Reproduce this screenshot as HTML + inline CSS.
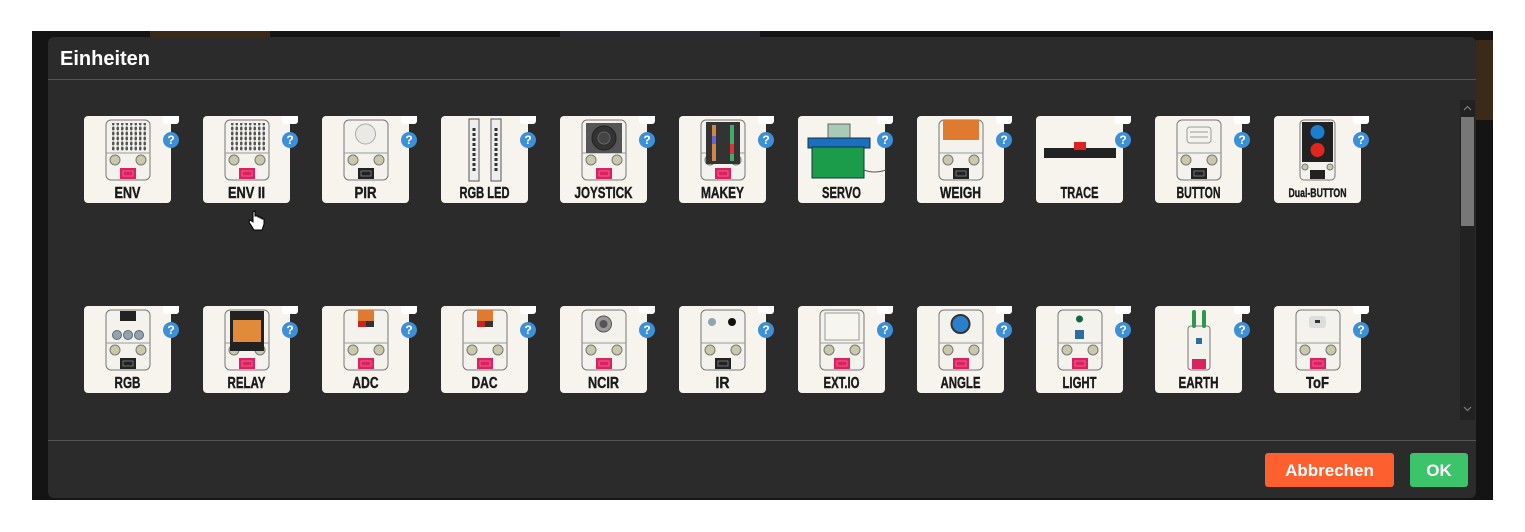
<!DOCTYPE html>
<html><head><meta charset="utf-8"><style>
html,body{margin:0;padding:0;background:#fff;}
svg{display:block}
.lb{font-family:"Liberation Sans",sans-serif;font-weight:bold;font-size:16px;fill:#1a1a1a;text-anchor:middle;stroke:#1a1a1a;stroke-width:0.4}
.q{font-family:"Liberation Sans",sans-serif;font-weight:bold;font-size:12px;fill:#fff;text-anchor:middle}
</style></head><body>
<svg width="1525" height="532" viewBox="0 0 1525 532" xmlns="http://www.w3.org/2000/svg">
<defs>
<symbol id="body"><rect x="22" y="4" width="44" height="60" rx="5" fill="#f4f2ec" stroke="#777" stroke-width="1"/><line x1="22" y1="37" x2="66" y2="37" stroke="#999"/><circle cx="31" cy="44" r="5" fill="#c9c9a9" stroke="#777"/><circle cx="57" cy="44" r="5" fill="#c9c9a9" stroke="#777"/></symbol>
<symbol id="pink"><rect x="36" y="52" width="16" height="11" fill="#d8245e"/><rect x="39" y="55" width="10" height="5" fill="none" stroke="#f6a" stroke-width="0.8"/></symbol>
<symbol id="blk"><rect x="36" y="52" width="16" height="11" fill="#222"/><rect x="39" y="55" width="10" height="5" fill="none" stroke="#888" stroke-width="0.8"/></symbol>
<symbol id="card"><rect x="0" y="0" width="87" height="87" rx="4" fill="#f7f4ee"/><rect x="79" y="-8" width="16" height="16" rx="3" fill="#fff"/><circle cx="87" cy="24" r="8" fill="#3d8fd6"/></symbol>
<pattern id="dots" width="4.5" height="5" patternUnits="userSpaceOnUse"><rect x="1" y="0.5" width="2.5" height="4" rx="1.2" fill="#555"/></pattern>
</defs>
<rect x="32" y="31" width="1461" height="469" fill="#141414"/>
<rect x="150" y="31" width="120" height="6" fill="#3a2a18"/><rect x="560" y="31" width="200" height="6" fill="#2a2a30"/><rect x="1476" y="40" width="17" height="80" fill="#3a2a1a"/>
<rect x="48" y="37" width="1428" height="461" rx="6" fill="#2b2b2b"/>
<text x="60" y="65" font-family="Liberation Sans,sans-serif" font-weight="bold" font-size="20" fill="#fff">Einheiten</text>
<line x1="48" y1="79.5" x2="1476" y2="79.5" stroke="#555"/>
<line x1="48" y1="440.5" x2="1476" y2="440.5" stroke="#555"/>
<rect x="1460" y="100" width="15" height="320" fill="#222"/><rect x="1461" y="117" width="13" height="109" fill="#777"/>
<path d="M1464 110 l3.5 -3.5 l3.5 3.5" stroke="#888" fill="none"/><path d="M1464 407 l3.5 3.5 l3.5 -3.5" stroke="#888" fill="none"/>
<rect x="1265" y="453" width="129" height="34" rx="3" fill="#fe5f2e"/>
<text x="1329.5" y="476" text-anchor="middle" font-family="Liberation Sans,sans-serif" font-weight="bold" font-size="17" fill="#fff">Abbrechen</text>
<rect x="1410" y="453" width="58" height="34" rx="3" fill="#3cc46a"/>
<text x="1439" y="476" text-anchor="middle" font-family="Liberation Sans,sans-serif" font-weight="bold" font-size="17" fill="#fff">OK</text>

<!-- Row 1 -->
<g transform="translate(84,116)"><use href="#card"/><text x="87" y="28" class="q">?</text><use href="#body"/><rect x="26" y="7" width="36" height="28" fill="url(#dots)"/><use href="#pink"/><text x="43.5" y="82" class="lb" textLength="26" lengthAdjust="spacingAndGlyphs">ENV</text></g>
<g transform="translate(203,116)"><use href="#card"/><text x="87" y="28" class="q">?</text><use href="#body"/><rect x="26" y="7" width="36" height="28" fill="url(#dots)"/><use href="#pink"/><text x="43.5" y="82" class="lb" textLength="37" lengthAdjust="spacingAndGlyphs">ENV  II</text></g>
<g transform="translate(322,116)"><use href="#card"/><text x="87" y="28" class="q">?</text><use href="#body"/><circle cx="43.5" cy="18" r="10" fill="#e9e9e6" stroke="#aaa"/><use href="#blk"/><text x="43.5" y="82" class="lb" textLength="22" lengthAdjust="spacingAndGlyphs">PIR</text></g>
<g transform="translate(441,116)"><use href="#card"/><text x="87" y="28" class="q">?</text><rect x="28" y="3" width="10" height="62" fill="#eee" stroke="#555"/><rect x="50" y="3" width="10" height="62" fill="#eee" stroke="#555"/><line x1="33" y1="12" x2="33" y2="56" stroke="#333" stroke-width="3" stroke-dasharray="3 2"/><line x1="55" y1="12" x2="55" y2="56" stroke="#333" stroke-width="3" stroke-dasharray="3 2"/><text x="43.5" y="82" class="lb" textLength="50" lengthAdjust="spacingAndGlyphs">RGB LED</text></g>
<g transform="translate(560,116)"><use href="#card"/><text x="87" y="28" class="q">?</text><use href="#body"/><rect x="26" y="7" width="36" height="30" fill="#555"/><circle cx="44" cy="22" r="12" fill="#333" stroke="#222"/><circle cx="44" cy="22" r="6" fill="#444" stroke="#666"/><use href="#pink"/><text x="43.5" y="82" class="lb" textLength="58" lengthAdjust="spacingAndGlyphs">JOYSTICK</text></g>
<g transform="translate(679,116)"><use href="#card"/><text x="87" y="28" class="q">?</text><use href="#body"/><rect x="27" y="6" width="34" height="42" fill="#333"/><rect x="33" y="9" width="4" height="36" fill="#c84"/><rect x="51" y="9" width="4" height="36" fill="#4a6"/><rect x="33" y="20" width="4" height="8" fill="#66c"/><rect x="51" y="28" width="4" height="10" fill="#d33"/><use href="#pink"/><text x="43.5" y="82" class="lb" textLength="43" lengthAdjust="spacingAndGlyphs">MAKEY</text></g>
<g transform="translate(798,116)"><use href="#card"/><text x="87" y="28" class="q">?</text><rect x="30" y="8" width="22" height="16" fill="#a9c9b9" stroke="#666"/><rect x="10" y="22" width="62" height="10" fill="#1a6fc0" stroke="#134"/><rect x="14" y="31" width="52" height="31" fill="#1b9c4a" stroke="#134"/><path d="M66 54 q10 4 22 0" stroke="#555" fill="none"/><text x="43.5" y="82" class="lb" textLength="39" lengthAdjust="spacingAndGlyphs">SERVO</text></g>
<g transform="translate(917,116)"><use href="#card"/><text x="87" y="28" class="q">?</text><use href="#body"/><rect x="26" y="4" width="36" height="20" fill="#e07a30"/><use href="#blk"/><text x="43.5" y="82" class="lb" textLength="41" lengthAdjust="spacingAndGlyphs">WEIGH</text></g>
<g transform="translate(1036,116)"><use href="#card"/><text x="87" y="28" class="q">?</text><rect x="8" y="32" width="72" height="10" fill="#222"/><rect x="38" y="26" width="12" height="8" fill="#d22"/><text x="43.5" y="82" class="lb" textLength="38" lengthAdjust="spacingAndGlyphs">TRACE</text></g>
<g transform="translate(1155,116)"><use href="#card"/><text x="87" y="28" class="q">?</text><use href="#body"/><rect x="32" y="11" width="24" height="16" rx="3" fill="none" stroke="#999"/><line x1="35" y1="16" x2="53" y2="16" stroke="#999"/><line x1="35" y1="21" x2="53" y2="21" stroke="#999"/><use href="#blk"/><text x="43.5" y="82" class="lb" textLength="44" lengthAdjust="spacingAndGlyphs">BUTTON</text></g>
<g transform="translate(1274,116)"><use href="#card"/><text x="87" y="28" class="q">?</text><rect x="26" y="4" width="35" height="60" rx="4" fill="#f4f2ec" stroke="#777"/><rect x="28" y="6" width="31" height="40" fill="#222"/><circle cx="43.5" cy="16" r="7" fill="#1a7fd0"/><circle cx="43.5" cy="34" r="7" fill="#e0261e"/><circle cx="31" cy="51" r="3" fill="#c9c9a9" stroke="#777"/><circle cx="56" cy="51" r="3" fill="#c9c9a9" stroke="#777"/><rect x="36" y="54" width="15" height="9" fill="#222"/><text x="43.5" y="81" class="lb" style="font-size:12px" textLength="58" lengthAdjust="spacingAndGlyphs">Dual-BUTTON</text></g>

<!-- Row 2 -->
<g transform="translate(84,306)"><use href="#card"/><text x="87" y="28" class="q">?</text><use href="#body"/><rect x="36" y="5" width="16" height="10" fill="#222"/><circle cx="33" cy="29" r="4.5" fill="#8fa3b8" stroke="#666"/><circle cx="44" cy="29" r="4.5" fill="#8fa3b8" stroke="#666"/><circle cx="55" cy="29" r="4.5" fill="#8fa3b8" stroke="#666"/><use href="#blk"/><text x="43.5" y="82" class="lb" textLength="26" lengthAdjust="spacingAndGlyphs">RGB</text></g>
<g transform="translate(203,306)"><use href="#card"/><text x="87" y="28" class="q">?</text><use href="#body"/><rect x="27" y="5" width="34" height="40" fill="#222"/><rect x="30" y="14" width="28" height="22" fill="#e08a3a"/><use href="#pink"/><text x="43.5" y="82" class="lb" textLength="38" lengthAdjust="spacingAndGlyphs">RELAY</text></g>
<g transform="translate(322,306)"><use href="#card"/><text x="87" y="28" class="q">?</text><use href="#body"/><rect x="36" y="4" width="16" height="11" fill="#e07a30"/><rect x="36" y="15" width="8" height="6" fill="#c22"/><rect x="44" y="15" width="8" height="6" fill="#333"/><use href="#pink"/><text x="43.5" y="82" class="lb" textLength="26" lengthAdjust="spacingAndGlyphs">ADC</text></g>
<g transform="translate(441,306)"><use href="#card"/><text x="87" y="28" class="q">?</text><use href="#body"/><rect x="36" y="4" width="16" height="11" fill="#e07a30"/><rect x="36" y="15" width="8" height="6" fill="#c22"/><rect x="44" y="15" width="8" height="6" fill="#333"/><use href="#pink"/><text x="43.5" y="82" class="lb" textLength="26" lengthAdjust="spacingAndGlyphs">DAC</text></g>
<g transform="translate(560,306)"><use href="#card"/><text x="87" y="28" class="q">?</text><use href="#body"/><circle cx="43.5" cy="18" r="8" fill="#999" stroke="#555"/><circle cx="43.5" cy="18" r="4" fill="#555"/><use href="#pink"/><text x="43.5" y="82" class="lb" textLength="31" lengthAdjust="spacingAndGlyphs">NCIR</text></g>
<g transform="translate(679,306)"><use href="#card"/><text x="87" y="28" class="q">?</text><use href="#body"/><circle cx="33" cy="16" r="4" fill="#8fa3b0"/><circle cx="53" cy="16" r="4" fill="#111"/><use href="#blk"/><text x="43.5" y="82" class="lb" textLength="14" lengthAdjust="spacingAndGlyphs">IR</text></g>
<g transform="translate(798,306)"><use href="#card"/><text x="87" y="28" class="q">?</text><use href="#body"/><rect x="27" y="7" width="34" height="27" fill="#f7f5f0" stroke="#999"/><use href="#pink"/><text x="43.5" y="82" class="lb" textLength="36" lengthAdjust="spacingAndGlyphs">EXT.IO</text></g>
<g transform="translate(917,306)"><use href="#card"/><text x="87" y="28" class="q">?</text><use href="#body"/><circle cx="43.5" cy="18" r="9" fill="#2a7fcf" stroke="#333" stroke-width="2"/><use href="#pink"/><text x="43.5" y="82" class="lb" textLength="40" lengthAdjust="spacingAndGlyphs">ANGLE</text></g>
<g transform="translate(1036,306)"><use href="#card"/><text x="87" y="28" class="q">?</text><use href="#body"/><circle cx="43.5" cy="13" r="3.5" fill="#164"/><rect x="39" y="24" width="9" height="9" fill="#2a6fa0"/><use href="#pink"/><text x="43.5" y="82" class="lb" textLength="34" lengthAdjust="spacingAndGlyphs">LIGHT</text></g>
<g transform="translate(1155,306)"><use href="#card"/><text x="87" y="28" class="q">?</text><rect x="33" y="20" width="22" height="44" rx="3" fill="#f4f2ec" stroke="#777"/><rect x="37" y="4" width="4" height="18" rx="2" fill="#2a9a4a"/><rect x="47" y="4" width="4" height="18" rx="2" fill="#2a9a4a"/><rect x="41" y="32" width="6" height="6" fill="#2a6fa0"/><rect x="37" y="53" width="14" height="10" fill="#d8245e"/><text x="43.5" y="82" class="lb" textLength="40" lengthAdjust="spacingAndGlyphs">EARTH</text></g>
<g transform="translate(1274,306)"><use href="#card"/><text x="87" y="28" class="q">?</text><use href="#body"/><rect x="35" y="10" width="17" height="12" rx="3" fill="#ddd"/><rect x="41" y="14" width="5" height="3" fill="#333"/><use href="#pink"/><text x="43.5" y="82" class="lb" textLength="23" lengthAdjust="spacingAndGlyphs">ToF</text></g>

<!-- cursor (hand) -->
<path d="M253 212 v10 l-3 -2 l-1 2 l5 8 h8 l2 -6 v-5 h-2 v-1 h-2 v-1 h-2 v-1 h-3 v-5 z" fill="#fff" stroke="#000"/>
</svg>
</body></html>
